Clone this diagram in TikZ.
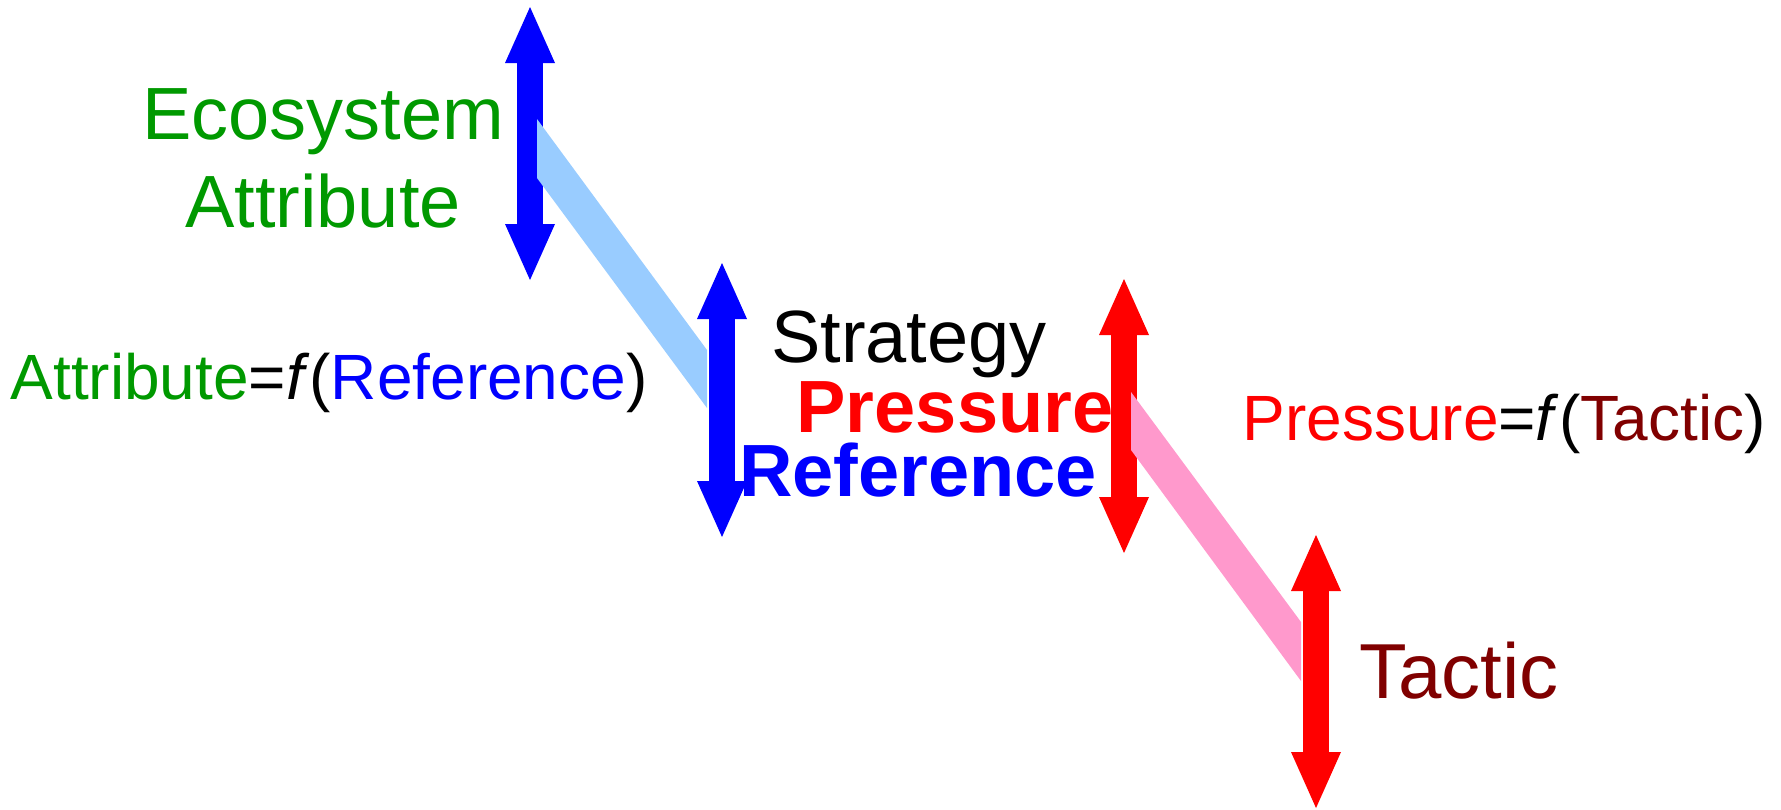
\documentclass[tikz,border=0pt]{standalone}
\usepackage{fontspec}
\setmainfont{Liberation Sans}
\usetikzlibrary{arrows.meta}
\definecolor{EcoGreen}{HTML}{009900}
\definecolor{EcoBlue}{HTML}{0000FF}
\definecolor{EcoRed}{HTML}{FF0000}
\definecolor{EcoDark}{HTML}{800000}
\definecolor{EcoSky}{HTML}{99CCFF}
\definecolor{EcoPink}{HTML}{FF99CC}
\tikzset{
  ecoarrow/.style={
    line width=13pt,
    draw=#1,
    {Triangle[length=28pt,width=25pt,line width=0pt]}-{Triangle[length=28pt,width=25pt,line width=0pt]}
  },
  ecoband/.style={fill=#1,draw=none},
  ecobig/.style={inner sep=0pt,anchor=base,font=\fontsize{37}{44}\selectfont},
  ecoform/.style={inner sep=0pt,anchor=base,font=\fontsize{32}{38}\selectfont}
}

\begin{document}
\begin{tikzpicture}[x=0.5pt,y=-0.5pt]
    \useasboundingbox (0,0) rectangle (1781,809);
    % ends of the four double arrows
    \coordinate (attrTop) at (530,7);
    \coordinate (attrBot) at (530,280);
    \coordinate (refTop) at (722,263);
    \coordinate (refBot) at (722,537);
    \coordinate (pressTop) at (1124,279);
    \coordinate (pressBot) at (1124,553);
    \coordinate (tacTop) at (1316,535);
    \coordinate (tacBot) at (1316,808);
    \draw[ecoarrow=EcoBlue] (attrTop) -- (attrBot);
    \draw[ecoarrow=EcoBlue] (refTop) -- (refBot);
    \draw[ecoarrow=EcoRed] (pressTop) -- (pressBot);
    \draw[ecoarrow=EcoRed] (tacTop) -- (tacBot);
    % links between the arrows
    \fill[ecoband=EcoSky] (537,119) -- (707,350) -- (707,408) -- (537,178) -- cycle;
    \fill[ecoband=EcoPink] (1131,392) -- (1301,622) -- (1301,681) -- (1131,450) -- cycle;
    \node[ecobig,text=EcoGreen] (ecoWord) at (323,139) {Ecosystem};
    \node[ecobig,text=EcoGreen] (attrWord) at (323,227) {Attribute};
    \node[ecoform] (attrForm) at (329,399)
      {\textcolor{EcoGreen}{Attribute}=\textit{f}(\textcolor{EcoBlue}{Reference})};
    \node[ecobig] (stratWord) at (909,362) {Strategy};
    \node[ecobig,text=EcoRed,font=\fontsize{37}{44}\selectfont\bfseries] (pressWord) at (955,432) {Pressure};
    \node[ecobig,text=EcoBlue,font=\fontsize{37}{44}\selectfont\bfseries] (refWord) at (918,496) {Reference};
    \node[ecoform] (pressForm) at (1504,440)
      {\textcolor{EcoRed}{Pressure}=\textit{f}(\textcolor{EcoDark}{Tactic})};
    \node[ecobig,text=EcoDark,font=\fontsize{39}{44}\selectfont] (tacWord) at (1459,698) {Tactic};
\end{tikzpicture}
\end{document}
